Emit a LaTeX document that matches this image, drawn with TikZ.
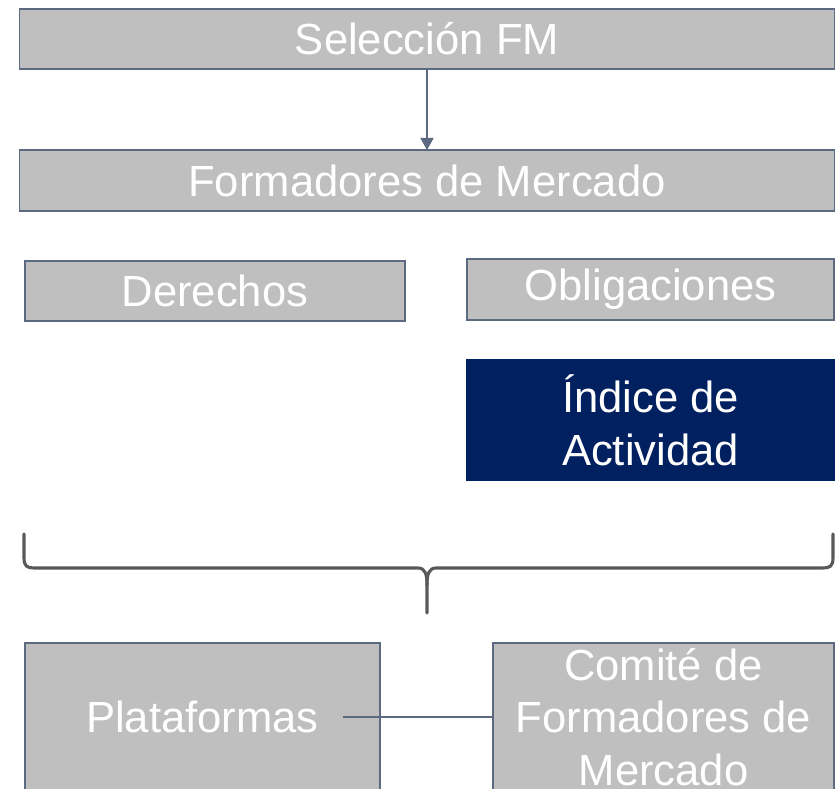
\documentclass[tikz,border=0pt]{standalone}
\usepackage{fontspec}
\setmainfont{Liberation Sans}
\usetikzlibrary{arrows.meta}
\definecolor{boxgray}{HTML}{BFBFBF}
\definecolor{boxline}{HTML}{5B6A80}
\definecolor{navyfill}{HTML}{002060}
\definecolor{bracegray}{HTML}{595959}
\tikzset{
	greybox/.style={draw=boxline, line width=0.8pt, fill=boxgray, text=white, inner sep=0pt, outer sep=0pt, align=center,
		font=\fontsize{31}{37.5}\selectfont},
	navybox/.style={greybox, draw=navyfill, fill=navyfill},
	link/.style={draw=boxline, line width=0.8pt}
}

\begin{document}
\begin{tikzpicture}[x=0.025cm, y=-0.025cm]
			%%%%% START %%%%%
			\useasboundingbox (0, 0) rectangle (840, 788);
			\clip (0, 0) rectangle (840, 788);
			
			\node[greybox, minimum width=20.35cm, minimum height=1.5cm] (seleccion) at (427, 39) {Selección FM};
			\node[greybox, minimum width=20.35cm, minimum height=1.525cm] (formadores) at (427, 180.5) {Formadores de Mercado};
			\draw[link, -{Triangle[width=0.33cm, length=0.3cm]}] (seleccion) -- (formadores);
			
			\node[greybox, minimum width=9.5cm, minimum height=1.5cm] (derechos) at (215, 291) {Derechos};
			\node[greybox, minimum width=9.175cm, minimum height=1.525cm] (obligaciones) at (650.5, 289.5) {Obligaciones};
			\node[navybox, minimum width=9.175cm, minimum height=3cm] (indice) at (650.5, 420) {Índice de\\Actividad};
			
			% llave
			\draw[line width=2.2pt, color=bracegray, line cap=round]
				(24, 534) -- (24, 558) .. controls (24, 566) and (27, 568) .. (34, 568)
				-- (418, 568) .. controls (425, 568) and (427, 574) .. (427, 585) -- (427, 613);
			\draw[line width=2.2pt, color=bracegray, line cap=round]
				(833, 534) -- (833, 558) .. controls (833, 566) and (830, 568) .. (823, 568)
				-- (436, 568) .. controls (429, 568) and (427, 574) .. (427, 585);
			
			\node[greybox, minimum width=8.875cm, minimum height=3.7cm] (plataformas) at (202.5, 717) {Plataformas};
			\node[greybox, minimum width=8.525cm, minimum height=3.7cm] (comite) at (663.5, 717) {Comité de\\Formadores de\\Mercado};
			\coordinate (platend) at (343, 717);
			\draw[link] (platend) -- (comite.west);
			
			%%%%% END %%%%%
\end{tikzpicture}
\end{document}
